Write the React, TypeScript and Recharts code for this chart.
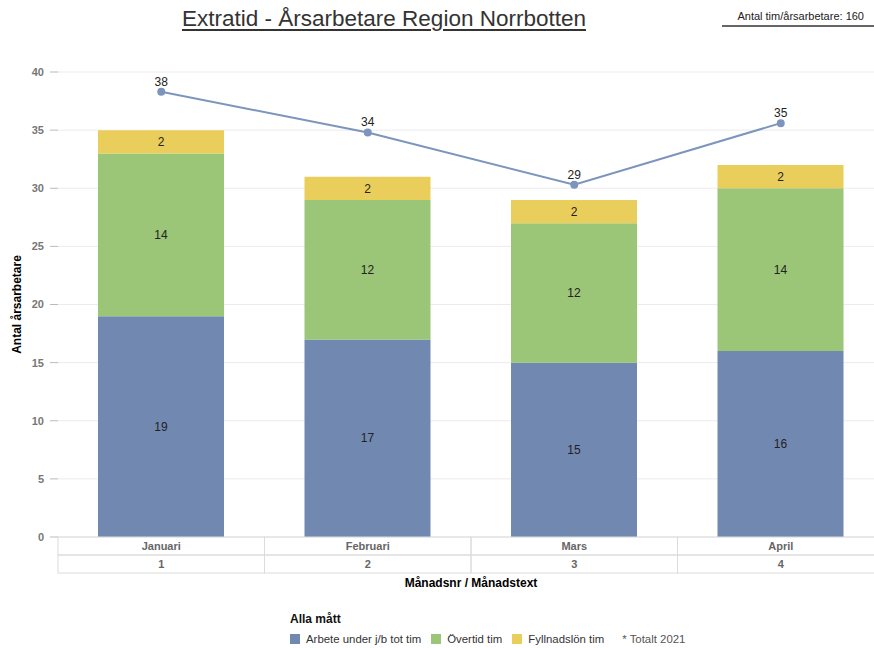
import React from 'react';
import {
  Bar,
  CartesianGrid,
  ComposedChart,
  LabelList,
  Line,
  XAxis,
  YAxis,
} from 'recharts';

// Månader och värden (årsarbetare) avlästa från rapporten
const manader = ['Januari', 'Februari', 'Mars', 'April'];
const manadsnr = ['1', '2', '3', '4'];
const arbeteUnder = [19, 17, 15, 16];
const overtid = [14, 12, 12, 14];
const fyllnadslon = [2, 2, 2, 2];
const totalt = [38.3, 34.8, 30.3, 35.6];
const totaltEtikett = [38, 34, 29, 35];
const yTicks = [0, 5, 10, 15, 20, 25, 30, 35, 40];

const C = {
  bla: '#7189B1',
  gron: '#9BC577',
  gul: '#EACE5B',
  linje: '#7C95BD',
};

const FONT = '"Liberation Sans", Arial, sans-serif';
const CHART_W = 900;
const CHART_H = 648;
const MARGIN = { top: 72, right: 16, bottom: 51, left: 0 };
const Y_W = 58;
const BAND = (CHART_W - MARGIN.left - MARGIN.right - Y_W) / manader.length;

const data = manader.map((m, i) => ({
  manad: m,
  nr: manadsnr[i],
  arbete: arbeteUnder[i],
  overtid: overtid[i],
  fyllnad: fyllnadslon[i],
  totalt: totalt[i],
  totaltEtikett: totaltEtikett[i],
}));

/** Två-radig tabell under x-axeln: månadstext + månadsnr. */
function TabellTick(props: any) {
  const { x, y, payload, index } = props;
  const rad = 18;
  const nr = data[index]?.nr ?? '';
  return (
    <g>
      <rect x={x - BAND / 2} y={y} width={BAND} height={rad} fill="none" stroke="#dcdcdc" />
      <rect x={x - BAND / 2} y={y + rad} width={BAND} height={rad} fill="none" stroke="#dcdcdc" />
      <text x={x} y={y + 13} textAnchor="middle" fontSize={11} fontWeight="bold" fill="#666" fontFamily={FONT}>
        {payload.value}
      </text>
      <text x={x} y={y + rad + 13} textAnchor="middle" fontSize={11} fontWeight="bold" fill="#666" fontFamily={FONT}>
        {nr}
      </text>
    </g>
  );
}

const legendItems = [
  { namn: 'Arbete under j/b tot tim', color: C.bla },
  { namn: 'Övertid tim', color: C.gron },
  { namn: 'Fyllnadslön tim', color: C.gul },
];

export default function App() {
  return (
    <div
      style={{
        position: 'absolute',
        left: 0,
        top: 0,
        width: 874,
        height: 648,
        overflow: 'hidden',
        background: '#fff',
        fontFamily: FONT,
      }}
    >
      <div
        style={{
          position: 'absolute',
          left: 164,
          top: 6,
          width: 440,
          textAlign: 'center',
          fontSize: 22.5,
          color: '#333',
          textDecoration: 'underline',
          textDecorationThickness: 2,
          textUnderlineOffset: 3,
        }}
      >
        Extratid - Årsarbetare Region Norrbotten
      </div>
      <div
        style={{
          position: 'absolute',
          left: 722,
          top: 10,
          width: 152,
          paddingRight: 10,
          boxSizing: 'border-box',
          textAlign: 'right',
          fontSize: 11,
          color: '#222',
          borderBottom: '2px solid #666',
          paddingBottom: 3,
        }}
      >
        Antal tim/årsarbetare: 160
      </div>

      <ComposedChart width={CHART_W} height={CHART_H} data={data} margin={MARGIN}>
        <CartesianGrid vertical={false} stroke="#ebebeb" />
        <XAxis
          dataKey="manad"
          height={60}
          axisLine={false}
          tickLine={false}
          tickSize={0}
          tickMargin={0}
          tick={<TabellTick />}
          interval={0}
          label={{
            value: 'Månadsnr / Månadstext',
            position: 'insideBottom',
            offset: 10,
            style: { fontSize: 12, fontWeight: 'bold', fill: '#000', fontFamily: FONT },
          }}
        />
        <YAxis
          width={Y_W}
          domain={[0, 40]}
          ticks={yTicks}
          axisLine={false}
          tickLine={{ stroke: '#bbb' }}
          tickSize={8}
          tickMargin={6}
          tick={{ fontSize: 11, fontWeight: 'bold', fill: '#777', fontFamily: FONT }}
          label={{
            value: 'Antal årsarbetare',
            angle: -90,
            position: 'insideLeft',
            offset: 17,
            style: { textAnchor: 'middle', fontSize: 12, fontWeight: 'bold', fill: '#000', fontFamily: FONT },
          }}
        />
        <Bar dataKey="arbete" name="Arbete under j/b tot tim" stackId="a" fill={C.bla} barSize={126} isAnimationActive={false}>
          <LabelList dataKey="arbete" position="center" fill="#222" fontSize={12} fontFamily={FONT} />
        </Bar>
        <Bar dataKey="overtid" name="Övertid tim" stackId="a" fill={C.gron} barSize={126} isAnimationActive={false}>
          <LabelList dataKey="overtid" position="center" fill="#222" fontSize={12} fontFamily={FONT} />
        </Bar>
        <Bar dataKey="fyllnad" name="Fyllnadslön tim" stackId="a" fill={C.gul} barSize={126} isAnimationActive={false}>
          <LabelList dataKey="fyllnad" position="center" fill="#222" fontSize={12} fontFamily={FONT} />
        </Bar>
        <Line
          dataKey="totalt"
          name="Totalt"
          stroke={C.linje}
          strokeWidth={2}
          dot={{ r: 3, fill: C.linje, stroke: C.linje }}
          isAnimationActive={false}
        >
          <LabelList dataKey="totaltEtikett" position="top" offset={6} fill="#222" fontSize={12} fontFamily={FONT} />
        </Line>
      </ComposedChart>

      <div style={{ position: 'absolute', left: 290, top: 612, fontSize: 12, fontWeight: 'bold', color: '#111' }}>
        Alla mått
      </div>
      <div
        style={{
          position: 'absolute',
          left: 290,
          top: 633,
          display: 'flex',
          alignItems: 'center',
          fontSize: 11.4,
          color: '#333',
          whiteSpace: 'nowrap',
        }}
      >
        {legendItems.map((it) => (
          <span key={it.namn} style={{ display: 'flex', alignItems: 'center', marginRight: 10 }}>
            <span style={{ width: 10, height: 10, background: it.color, display: 'inline-block', marginRight: 6 }} />
            {it.namn}
          </span>
        ))}
        <span style={{ marginLeft: 8, color: '#555' }}>* Totalt 2021</span>
      </div>
    </div>
  );
}
